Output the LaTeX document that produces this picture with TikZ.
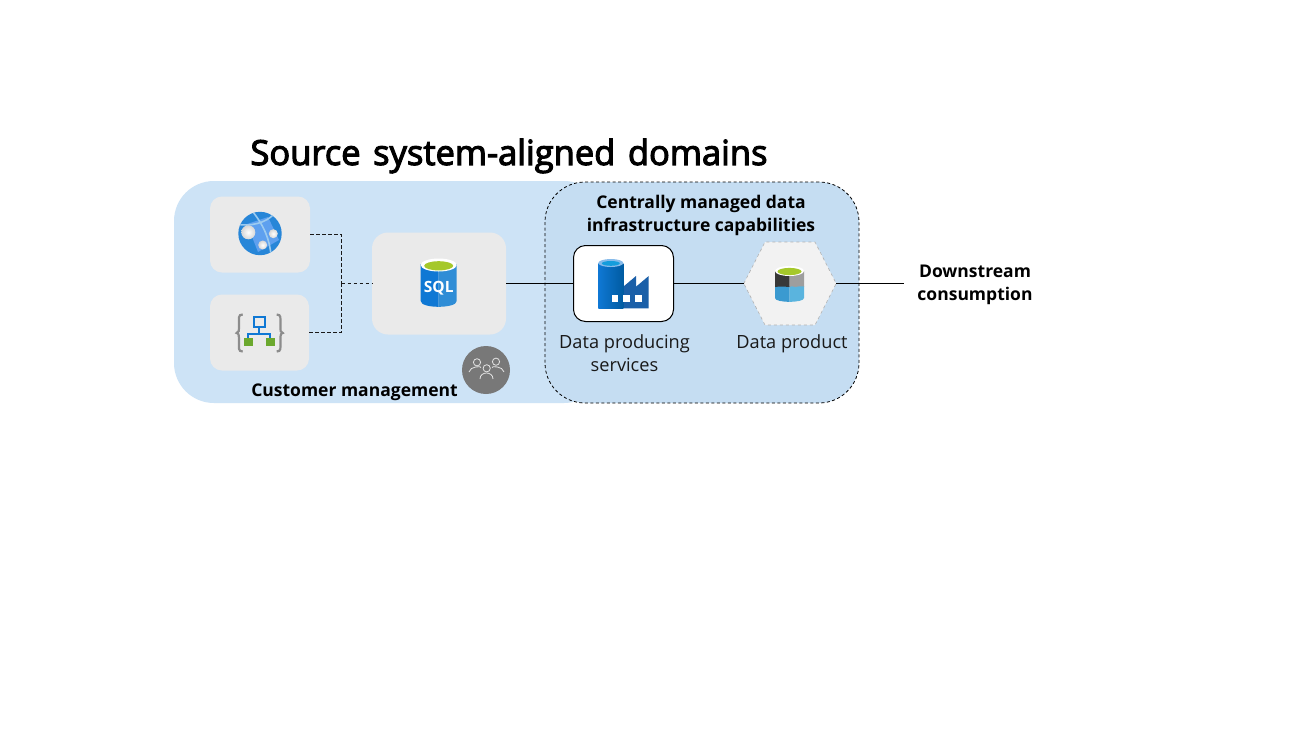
\documentclass[tikz,border=0pt]{standalone}
\usepackage{fontspec}
\setmainfont{Open Sans}
\newfontfamily\titlefont[FakeBold=3.2,WordSpace=1.4]{Open Sans}
\usetikzlibrary{shapes.geometric}
\definecolor{domainblue}{HTML}{CDE3F6}
\definecolor{infrablue}{HTML}{C5DDF2}
\definecolor{tilegray}{HTML}{EAEAEA}
\definecolor{hexgray}{HTML}{F2F2F2}
\definecolor{azureblue}{HTML}{0F78D4}
\definecolor{azurelight}{HTML}{2F8DD6}
\definecolor{azuredark}{HTML}{1A5FA8}
\definecolor{azuredeep}{HTML}{005BA1}
\definecolor{globemid}{HTML}{5EA0EF}
\definecolor{globeline}{HTML}{9CCBF0}
\definecolor{limegreen}{HTML}{A5C82A}
\definecolor{leafgreen}{HTML}{6BA82E}
\definecolor{lakeblue}{HTML}{3B9AD0}
\definecolor{lakelight}{HTML}{5AB4DE}
\begin{document}
\begin{tikzpicture}[x=1pt,y=-1pt]{
    \tikzstyle{tile}=[fill=tilegray, rounded corners=12pt, inner sep=0pt]
    \tikzstyle{heading}=[inner sep=0pt, align=center, font=\fontsize{17.5}{23}\selectfont\bfseries]
    \tikzstyle{caption}=[inner sep=0pt, align=center, font=\fontsize{18.2}{23}\selectfont, text=black!90]
    \tikzstyle{valid}=[draw=black, line width=1pt]
    \tikzstyle{optional}=[draw=black!90, line width=1.3pt, dash pattern=on 3.5pt off 2.5pt]
    \tikzstyle{orb}=[inner color=white, outer color=black!16]

    \useasboundingbox (0,0) rectangle (1306,734);
    \fill[white] (0,0) rectangle (1306,734);

    \node[inner sep=0pt, font=\fontsize{34.5}{40}\selectfont\titlefont] (title) at (509,156) {Source system-aligned domains};

    \node[fill=domainblue, rounded corners=40pt, minimum width=430pt, minimum height=222pt, inner sep=0pt] (domain) at (389,292) {};
    \node[fill=infrablue, draw=black, line width=0.8pt, dash pattern=on 3pt off 2.5pt, rounded corners=40pt, minimum width=314pt, minimum height=221pt, inner sep=0pt] (infra) at (702,292.5) {};

    \node[tile, minimum width=100pt, minimum height=76pt] (webapp) at (260,234.5) {};
    \node[tile, minimum width=99pt, minimum height=76pt] (apimgmt) at (259.5,332.5) {};
    \node[tile, minimum width=134pt, minimum height=102pt, rounded corners=16pt] (sqldb) at (439,283.5) {};
    \node[fill=white, draw=black, line width=1pt, rounded corners=12pt, minimum width=100pt, minimum height=76pt, inner sep=0pt] (factory) at (623.5,283.5) {};
    \node[minimum width=92pt, minimum height=83pt, inner sep=0pt] (product) at (790,283.5) {};
    \fill[hexgray] (product.west) -- (765,242) -- (815,242) -- (product.east) -- (815,325) -- (765,325) -- cycle;
    \draw[black!30, dashed, line width=0.6pt] (product.west) -- (765,242) -- (815,242) -- (product.east) -- (815,325) -- (765,325) -- cycle;
    \coordinate (junction) at (341.5,283.5);
    \coordinate (downstream) at (904,283.5);

    \node[heading] (infratitle) at (701,215) {Centrally managed data\\infrastructure capabilities};
    \node[heading] (custlabel) at (354.5,392) {Customer management};
    \node[caption] (factorylabel) at (624.5,353.5) {Data producing\\services};
    \node[caption] (productlabel) at (792,344) {Data product};
    \node[heading] (downlabel) at (975,284.5) {Downstream\\consumption};

    \draw [optional] (webapp) -| (junction);
    \draw [optional] (apimgmt) -| (junction);
    \draw [optional] (junction) -- (sqldb);
    \draw [valid] (sqldb) -- (factory);
    \draw [valid] (factory) -- (product);
    \draw [valid] (product) -- (downstream);

    % web app icon
    \begin{scope}
      \clip (260,233.5) circle [radius=21.7pt];
      \fill[azureblue!90!white] (238,211) rectangle (282,256);
      \fill[globemid] (247,224) -- (268,217) -- (279,240) -- (258,252) -- cycle;
      \draw[globeline, line width=1.6pt] (236,224) .. controls (250,227) and (266,223) .. (274,214);
      \draw[globeline, line width=1.6pt] (253,212) .. controls (264,226) and (270,240) .. (271,256);
    \end{scope}
    \shade[orb] (248.3,232.3) circle [radius=7pt];
    \shade[orb] (273.3,233.7) circle [radius=4.5pt];
    \shade[orb] (262.7,245) circle [radius=4.5pt];

    % api icon
    \draw[black!45, line width=2.2pt] (242.7,314.5) .. controls (238,314.5) and (239,318) .. (239,324) .. controls (239,331) and (239,333) .. (236.7,333) .. controls (239,333) and (239,336) .. (239,342) .. controls (239,348) and (238,351.5) .. (242.7,351.5);
    \draw[black!45, line width=2.2pt] (276.7,314.5) .. controls (281.4,314.5) and (280.4,318) .. (280.4,324) .. controls (280.4,331) and (280.4,333) .. (282.7,333) .. controls (280.4,333) and (280.4,336) .. (280.4,342) .. controls (280.4,348) and (281.4,351.5) .. (276.7,351.5);
    \draw[azureblue, line width=1.9pt] (254.2,317.4) rectangle (264.6,327);
    \draw[azureblue, line width=2pt] (259.4,327) -- (259.4,334);
    \draw[azureblue, line width=2pt] (248.4,338) -- (248.4,334) -- (270.4,334) -- (270.4,338);
    \fill[leafgreen] (244,337.7) rectangle (252.7,345.7);
    \fill[leafgreen] (266,337.7) rectangle (274.7,345.7);

    % sql icon
    \fill[azureblue] (438.7,264) -- (420.7,264) -- (420.7,301) .. controls (420.7,305) and (430,306.8) .. (438.7,306.8) -- cycle;
    \fill[azurelight] (438.7,264) -- (456.7,264) -- (456.7,301) .. controls (456.7,305) and (447,306.8) .. (438.7,306.8) -- cycle;
    \fill[white] (438.7,265) ellipse [x radius=18pt, y radius=6.5pt];
    \fill[limegreen] (438.7,265.8) ellipse [x radius=14.5pt, y radius=4.6pt];
    \node[inner sep=0pt, text=white, font=\fontsize{15.5}{16}\selectfont\bfseries] (sqltext) at (438.7,288) {SQL};

    % factory icon
    \fill[azuredark] (623.3,286.7) -- (636,276) -- (636,286.7) -- (648.7,276) -- (648.7,308.3) -- (620,308.3) -- cycle;
    \shade[left color=azureblue, right color=azuredeep] (598.3,263) rectangle (623.3,308.3);
    \fill[azureblue!50!white] (610.8,263) ellipse [x radius=12.5pt, y radius=4pt];
    \fill[cyan!70!azureblue] (610.8,263.4) ellipse [x radius=9pt, y radius=2.4pt];
    \fill[white] (611.7,295) rectangle (618.3,301.7);
    \fill[white] (623.3,295) rectangle (630,301.7);
    \fill[white] (635,295) rectangle (641.7,301.7);

    % data product icon
    \fill[lakeblue] (775,286) -- (775,298) .. controls (775,300.5) and (782,301.8) .. (789.5,301.8) -- (789.5,286) -- cycle;
    \fill[lakelight] (789.5,286) -- (789.5,301.8) .. controls (797,301.8) and (804,300.5) .. (804,298) -- (804,286) -- cycle;
    \fill[black!78] (775,271) -- (775,287) .. controls (778,285) and (780,288) .. (783,286.5) .. controls (785,285.5) and (787,288) .. (789.5,287) -- (789.5,271) -- cycle;
    \fill[black!38] (789.5,271) -- (789.5,287) .. controls (792,285) and (795,288) .. (798,286.5) .. controls (800,285.5) and (802,287) .. (804,286.5) -- (804,271) -- cycle;
    \fill[white] (789.5,271) ellipse [x radius=14.5pt, y radius=5pt];
    \fill[limegreen] (789.5,271.5) ellipse [x radius=12pt, y radius=3.6pt];

    % people badge
    \node[circle, fill=black!53, minimum size=48pt, inner sep=0pt] (team) at (486,370) {};
    \tikzstyle{person}=[draw=white!90!black, line width=0.8pt]
    \draw[person] (477,362.3) circle [radius=3.6pt];
    \draw[person] (496,361.7) circle [radius=3.6pt];
    \draw[person] (486.7,368.3) circle [radius=3.6pt];
    \draw[person] (469,372) .. controls (470,366) and (482,366) .. (481,367.5);
    \draw[person] (492,367.5) .. controls (491,366) and (503,366) .. (504,372);
    \draw[person] (480,379) .. controls (480,371) and (493,371) .. (493,379);}
\end{tikzpicture}
\end{document}
